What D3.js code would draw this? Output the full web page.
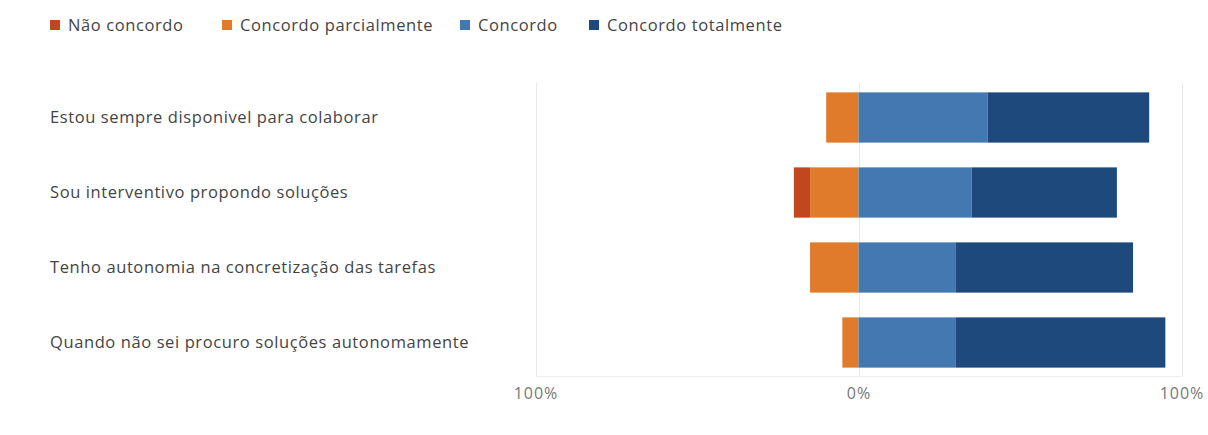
<!DOCTYPE html>
<html>
<head>
<meta charset="utf-8">
<script src="https://cdn.jsdelivr.net/npm/d3@7"></script>
<style>
  html, body { margin: 0; padding: 0; background: #fff; }
  svg { display: block; font-family: "Open Sans", "Noto Sans", sans-serif; }
</style>
</head>
<body>
<svg id="chart" width="1208" height="435"></svg>
<script>
const categories = [
  "Estou sempre disponivel para colaborar",
  "Sou interventivo propondo soluções",
  "Tenho autonomia na concretização das tarefas",
  "Quando não sei procuro soluções autonomamente"
];
const seriesNames = ["Não concordo", "Concordo parcialmente", "Concordo", "Concordo totalmente"];
const naoConcordo = [0, 5, 0, 0];
const concordoParcialmente = [10, 15, 15, 5];
const concordo = [40, 35, 30, 30];
const concordoTotalmente = [50, 45, 55, 65];
const tickValues = [-100, 0, 100];
const tickLabels = ["100%", "0%", "100%"];
const colors = ["#C2461E", "#E07B2C", "#4379B0", "#1E497C"];

const svg = d3.select("#chart");
const x = d3.scaleLinear().domain([-100, 100]).range([535.5, 1181.5]);
const y = d3.scaleBand().domain(categories).range([80, 380]).paddingInner(0.33).paddingOuter(0.165);

// gridlines
svg.append("g").selectAll("line").data(tickValues).join("line")
  .attr("x1", d => Math.round(x(d)) + 0.5).attr("x2", d => Math.round(x(d)) + 0.5)
  .attr("y1", 83).attr("y2", 377)
  .attr("stroke", "#e9e9e9").attr("stroke-width", 1);
svg.append("line").attr("x1", x(-100)).attr("x2", x(100)).attr("y1", 376.5).attr("y2", 376.5)
  .attr("stroke", "#eeeeee");

// build segments
const rows = categories.map((c, i) => {
  const segs = [];
  const negVals = [naoConcordo[i], concordoParcialmente[i]];
  let start = -(negVals[0] + negVals[1]);
  [0, 1].forEach(k => { segs.push({ cat: c, k, x0: start, x1: start + negVals[k] }); start += negVals[k]; });
  let pos = 0;
  [concordo[i], concordoTotalmente[i]].forEach((v, j) => { segs.push({ cat: c, k: j + 2, x0: pos, x1: pos + v }); pos += v; });
  return segs;
}).flat().filter(s => s.x1 > s.x0);

svg.append("g").selectAll("rect").data(rows).join("rect")
  .attr("x", d => x(d.x0))
  .attr("width", d => x(d.x1) - x(d.x0))
  .attr("y", d => y(d.cat))
  .attr("height", y.bandwidth())
  .attr("fill", d => colors[d.k]);

// category labels
svg.append("g").selectAll("text").data(categories).join("text")
  .attr("x", 50).attr("y", d => y(d) + y.bandwidth() / 2)
  .attr("dy", "0.35em")
  .attr("font-size", 16.5).attr("letter-spacing", 0.6).attr("fill", "#444")
  .text(d => d);

// x axis tick labels
const axis = d3.axisBottom(x).tickValues(tickValues).tickFormat((d, i) => tickLabels[i]).tickSize(0).tickPadding(0);
const ag = svg.append("g").attr("transform", "translate(0,388)").call(axis);
ag.select(".domain").remove();
ag.selectAll("text").attr("font-size", 16).attr("letter-spacing", 1).attr("fill", "#777")
  .attr("font-family", "'Open Sans', 'Noto Sans', sans-serif");

// legend
const legendX = [50, 222, 460, 589];
const lg = svg.append("g").selectAll("g").data(seriesNames).join("g")
  .attr("transform", (d, i) => `translate(${legendX[i]},20)`);
lg.append("rect").attr("width", 10).attr("height", 10).attr("fill", (d, i) => colors[i]);
lg.append("text").attr("x", 18).attr("y", 5).attr("dy", "0.35em")
  .attr("font-size", 16.5).attr("letter-spacing", 0.6).attr("fill", "#444").text(d => d);
</script>
</body>
</html>
